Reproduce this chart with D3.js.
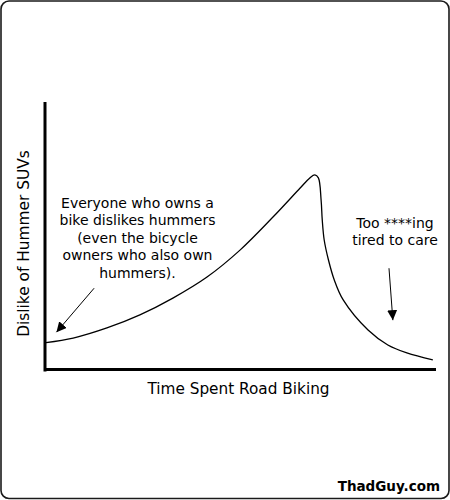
<!DOCTYPE html>
<html>
<head>
<meta charset="utf-8">
<script src="https://cdn.jsdelivr.net/npm/d3@7"></script>
<style>
  body { margin: 0; background: #fff; }
  svg { display: block; font-family: "DejaVu Sans", sans-serif; }
</style>
</head>
<body>
<div id="chart"></div>
<script>
// curve (x: time spent, y: dislike, both 0-100)
var timeSpent = [0, 7, 15.7, 24.2, 32.7, 41.5, 50, 58.5, 65.5, 68, 69.3, 70.2, 70.9, 71.2, 71.7, 72.8, 74.3, 76.6, 83, 88.1, 93, 99.7];
var dislike   = [10.1, 11.8, 15.6, 20.5, 26.8, 34.7, 44.8, 57.2, 68.1, 71.9, 73, 71.9, 63.6, 56.1, 48.6, 41.1, 33.6, 26.1, 14.8, 9.2, 6.2, 3.6];

var leftNote = ["Everyone who owns a", "bike dislikes hummers", "(even the bicycle", "owners who also own", "hummers)."];
var rightNote = ["Too ****ing", "tired to care"];

var width = 450,
    height = 500;

var svg = d3.select("#chart").append("svg")
    .attr("width", width)
    .attr("height", height);

// rounded frame
svg.append("rect")
    .attr("x", 1).attr("y", 1)
    .attr("width", width - 2).attr("height", height - 2.5)
    .attr("rx", 8).attr("ry", 8)
    .attr("fill", "none")
    .attr("stroke", "#1a1a1a")
    .attr("stroke-width", 1.6);

var x = d3.scaleLinear().domain([0, 100]).range([46, 434]);
var y = d3.scaleLinear().domain([0, 100]).range([369.5, 103]);

var defs = svg.append("defs");
defs.append("marker")
    .attr("id", "head")
    .attr("viewBox", "0 0 10 10")
    .attr("refX", 10).attr("refY", 5)
    .attr("markerWidth", 10).attr("markerHeight", 10)
    .attr("markerUnits", "userSpaceOnUse")
    .attr("orient", "auto")
  .append("path")
    .attr("d", "M0,0L10,5L0,10Z")
    .attr("fill", "#000");

// axes, no ticks
var yAxis = svg.append("g")
    .attr("transform", "translate(44.5,0)")
    .call(d3.axisLeft(y).ticks(0).tickSizeOuter(0));
var xAxis = svg.append("g")
    .attr("transform", "translate(0,369)")
    .call(d3.axisBottom(x).ticks(0).tickSizeOuter(0));
svg.selectAll(".domain")
    .attr("stroke", "#000")
    .attr("stroke-width", 3)
    .attr("stroke-linecap", "square");

var line = d3.line()
    .x(function(d, i) { return x(timeSpent[i]); })
    .y(function(d) { return y(d); })
    .curve(d3.curveCatmullRom.alpha(0.5));

svg.append("path")
    .datum(dislike)
    .attr("d", line)
    .attr("fill", "none")
    .attr("stroke", "#000")
    .attr("stroke-width", 1.3);

// axis titles
svg.append("text")
    .attr("x", 238.5)
    .attr("y", 394)
    .attr("text-anchor", "middle")
    .attr("font-size", 15.3)
    .text("Time Spent Road Biking");

svg.append("text")
    .attr("transform", "translate(28.5,243.5) rotate(-90)")
    .attr("text-anchor", "middle")
    .attr("font-size", 15.4)
    .text("Dislike of Hummer SUVs");

// annotations
svg.append("g").selectAll("text")
    .data(leftNote)
  .enter().append("text")
    .attr("x", 137.5)
    .attr("y", function(d, i) { return 207.5 + i * 17.5; })
    .attr("text-anchor", "middle")
    .attr("font-size", 14)
    .text(function(d) { return d; });

svg.append("g").selectAll("text")
    .data(rightNote)
  .enter().append("text")
    .attr("x", 395)
    .attr("y", function(d, i) { return 227.5 + i * 17.5; })
    .attr("text-anchor", "middle")
    .attr("font-size", 14)
    .text(function(d) { return d; });

svg.append("line")
    .attr("x1", x(12.4)).attr("y1", y(30.5))
    .attr("x2", x(2.7)).attr("y2", y(14))
    .attr("stroke", "#000").attr("stroke-width", 1)
    .attr("marker-end", "url(#head)");

svg.append("line")
    .attr("x1", x(88.4)).attr("y1", y(38))
    .attr("x2", x(89.4)).attr("y2", y(18.5))
    .attr("stroke", "#000").attr("stroke-width", 1)
    .attr("marker-end", "url(#head)");

svg.append("text")
    .attr("x", 440)
    .attr("y", 491)
    .attr("text-anchor", "end")
    .attr("font-size", 13.5)
    .attr("font-weight", "bold")
    .text("ThadGuy.com");
</script>
</body>
</html>
